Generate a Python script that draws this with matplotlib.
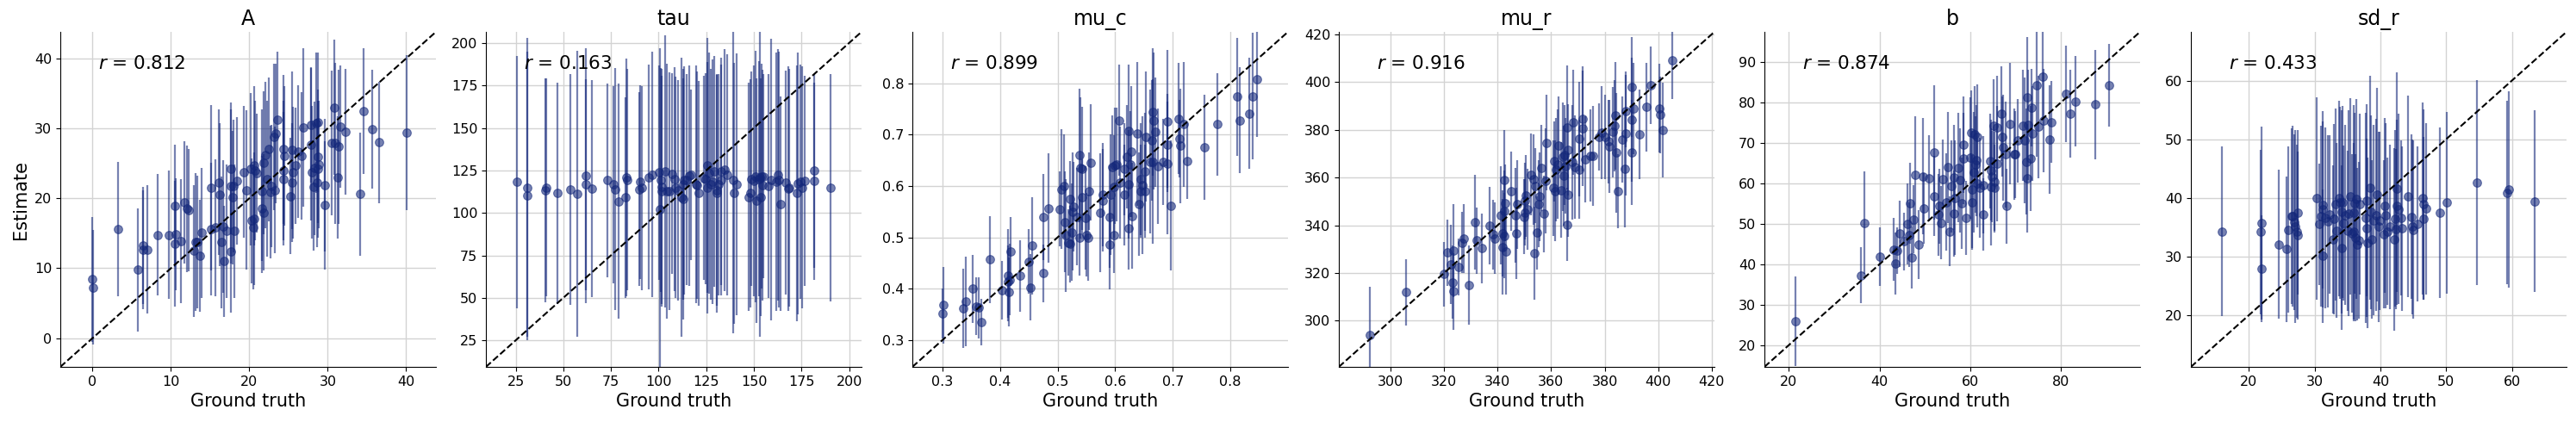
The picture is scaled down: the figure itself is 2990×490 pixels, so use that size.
import numpy as np
import matplotlib
matplotlib.use('Agg')
import matplotlib.pyplot as plt

# ---- data (ground truth, estimate, half-width of interval) ----
A_true = [0.0, 0.1, 3.3, 5.8, 6.4, 6.5, 7.0, 8.3, 9.7, 10.5, 10.6, 10.5, 11.3, 11.7, 12.0, 12.3,
          12.9, 13.1, 13.4, 13.7, 13.9, 15.1, 15.1, 15.7, 16.1, 16.2, 16.4, 16.7, 16.8, 17.1, 17.6,
          17.6, 17.7, 17.9, 18.0, 18.1, 18.4, 19.3, 19.6, 20.2, 20.3, 20.5, 20.6, 20.6, 20.7, 20.9,
          21.6, 21.6, 21.8, 21.8, 22.1, 22.3, 22.5, 22.7, 22.8, 23.2, 23.3, 23.4, 23.6, 24.4, 24.4,
          24.4, 24.5, 25.2, 25.4, 25.5, 25.6, 25.9, 26.2, 26.7, 26.9, 27.9, 27.9, 28.0, 28.2, 28.3,
          28.5, 28.6, 28.7, 28.7, 28.8, 28.9, 29.6, 29.6, 30.5, 30.8, 30.9, 31.3, 31.4, 31.6, 32.3,
          34.1, 34.6, 35.7, 36.5, 40.1]
A_est = [8.4, 7.25, 15.6, 9.8, 13.25, 12.6, 12.7, 14.8, 14.8, 18.9, 14.9, 13.5, 13.9, 19.4, 18.5,
         18.3, 12.5, 13.75, 13.75, 11.8, 15.1, 21.5, 15.6, 15.8, 22.3, 20.5, 13.7, 16.0, 11.0, 15.3,
         24.25, 12.4, 21.7, 20.1, 21.8, 15.3, 22.5, 23.75, 21.2, 24.2, 16.8, 15.9, 17.1, 24.7, 24.0,
         23.6, 21.0, 18.6, 18.0, 25.1, 26.2, 22.8, 27.0, 20.9, 21.75, 28.8, 21.2, 29.3, 31.3, 27.0,
         24.0, 22.8, 26.1, 20.3, 26.9, 22.2, 23.7, 24.7, 26.7, 26.1, 30.1, 30.5, 27.7, 23.7, 21.6,
         24.3, 30.8, 22.2, 30.9, 24.2, 26.0, 24.8, 19.0, 21.9, 27.9, 33.0, 27.9, 23.0, 27.4, 30.3,
         29.5, 20.6, 32.5, 29.9, 28.0, 29.4]
A_err = [8.9, 8.2, 9.6, 8.8, 8.4, 8.5, 9.2, 8.7, 9.2, 8.75, 8.0, 9.0, 8.9, 8.75, 9.0, 8.7, 9.4,
         9.8, 9.5, 8.0, 9.3, 11.8, 9.5, 9.75, 10.4, 10.2, 9.4, 9.5, 7.9, 9.5, 9.4, 8.75, 11.0, 9.5,
         9.5, 9.5, 9.1, 9.4, 11.4, 10.9, 8.9, 8.9, 9.5, 11.4, 10.0, 8.5, 11.7, 7.5, 8.3, 10.2, 10.5,
         11.1, 10.3, 9.5, 8.75, 10.5, 9.1, 10.0, 9.7, 10.7, 10.0, 9.5, 10.0, 8.3, 11.25, 8.5, 9.4,
         8.3, 9.5, 9.1, 11.3, 8.2, 10.9, 9.5, 9.1, 9.5, 10.0, 9.2, 10.0, 9.8, 9.5, 9.1, 9.2, 9.5,
         10.3, 9.7, 11.5, 8.75, 11.0, 8.75, 9.0, 8.85, 9.0, 8.5, 8.7, 11.1]

tau_true = [25.8, 30.9, 31.3, 40.8, 41.1, 46.7, 53.5, 57.1, 61.9, 61.9, 64.8, 73.0, 76.1, 77.4,
            79.2, 82.8, 83.3, 83.4, 90.1, 89.8, 91.1, 95.0, 96.8, 100.2, 100.6, 101.0, 101.4, 101.4,
            103.6, 104.4, 105.6, 107.0, 108.4, 108.9, 110.0, 112.2, 112.7, 113.1, 113.4, 114.6,
            116.1, 117.2, 119.7, 120.2, 121.2, 123.9, 124.7, 125.7, 125.7, 126.5, 127.3, 128.5,
            129.2, 130.4, 130.7, 131.5, 132.7, 133.0, 134.5, 136.0, 139.3, 139.5, 140.8, 147.3,
            148.0, 148.8, 149.8, 151.1, 151.5, 152.6, 153.3, 153.6, 154.1, 154.8, 154.4, 157.8,
            158.9, 161.6, 162.7, 163.1, 164.2, 166.6, 168.1, 168.7, 172.6, 173.2, 174.4, 175.2,
            176.7, 181.5, 181.6, 190.2]
tau_est = [118.1, 115.0, 110.0, 113.3, 115.0, 111.5, 113.7, 111.1, 122.1, 116.7, 114.2, 119.2,
           116.7, 114.0, 106.9, 109.1, 121.0, 119.6, 118.1, 113.8, 114.7, 121.0, 122.6, 123.8,
           102.0, 119.3, 115.5, 112.8, 124.3, 112.8, 112.8, 123.1, 119.8, 115.0, 113.3, 109.1,
           108.2, 116.7, 119.2, 119.6, 121.8, 122.3, 116.7, 116.2, 111.5, 120.6, 120.1, 128.2,
           114.7, 123.5, 116.7, 118.4, 124.3, 113.3, 111.5, 116.7, 124.3, 119.3, 125.2, 122.3,
           119.3, 111.5, 116.7, 109.4, 111.5, 120.1, 118.8, 121.3, 107.1, 120.1, 121.0, 109.1,
           121.5, 121.5, 116.2, 115.9, 119.6, 118.4, 122.3, 119.6, 105.4, 117.9, 114.2, 114.7,
           111.5, 117.1, 118.4, 115.0, 118.8, 118.8, 124.7, 114.7]
tau_err = [74, 88, 85, 66, 64, 65, 68, 84, 75, 62, 64, 57, 58, 71, 69, 59, 70, 65, 57, 57, 60,
           66, 72, 63, 95, 66, 69, 68, 80, 75, 70, 59, 66, 65, 65, 82, 71, 68, 67, 62, 65, 50, 70,
           67, 66, 60, 62, 75, 74, 71, 68, 72, 68, 68, 70, 65, 67, 68, 71, 71, 90, 77, 77, 67, 67,
           63, 68, 74, 72, 69, 94, 70, 66, 60, 68, 66, 83, 76, 74, 75, 63, 66, 72, 70, 75, 77, 69,
           71, 62, 58, 57, 67]

mu_c_true = [0.3015, 0.3005, 0.336, 0.341, 0.353, 0.359, 0.363, 0.368, 0.382, 0.404, 0.414, 0.414,
             0.416, 0.417, 0.419, 0.435, 0.45, 0.453, 0.456, 0.476, 0.476, 0.485, 0.504, 0.507,
             0.511, 0.512, 0.514, 0.518, 0.521, 0.522, 0.524, 0.526, 0.528, 0.533, 0.538, 0.538,
             0.54, 0.542, 0.543, 0.548, 0.55, 0.553, 0.555, 0.558, 0.574, 0.578, 0.579, 0.59,
             0.591, 0.592, 0.595, 0.598, 0.598, 0.599, 0.603, 0.607, 0.608, 0.616, 0.616, 0.621,
             0.623, 0.623, 0.624, 0.627, 0.628, 0.629, 0.639, 0.642, 0.644, 0.645, 0.648, 0.652,
             0.652, 0.653, 0.661, 0.663, 0.665, 0.665, 0.667, 0.669, 0.674, 0.683, 0.691, 0.691,
             0.691, 0.696, 0.71, 0.711, 0.713, 0.719, 0.725, 0.755, 0.777, 0.812, 0.816, 0.832,
             0.838, 0.846]
mu_c_est = [0.368, 0.352, 0.362, 0.376, 0.40, 0.366, 0.363, 0.335, 0.457, 0.397, 0.426, 0.414,
            0.394, 0.418, 0.473, 0.425, 0.453, 0.403, 0.484, 0.54, 0.43, 0.557, 0.555, 0.594,
            0.60, 0.53, 0.504, 0.49, 0.487, 0.575, 0.51, 0.55, 0.56, 0.54, 0.66, 0.50, 0.635,
            0.634, 0.579, 0.538, 0.505, 0.50, 0.59, 0.646, 0.548, 0.583, 0.572, 0.486, 0.54,
            0.583, 0.637, 0.504, 0.599, 0.64, 0.642, 0.728, 0.607, 0.583, 0.633, 0.657, 0.708,
            0.603, 0.518, 0.642, 0.667, 0.542, 0.702, 0.565, 0.614, 0.59, 0.601, 0.628, 0.59,
            0.696, 0.647, 0.689, 0.744, 0.647, 0.727, 0.705, 0.638, 0.647, 0.726, 0.681, 0.643,
            0.562, 0.731, 0.692, 0.678, 0.72, 0.648, 0.675, 0.72, 0.774, 0.728, 0.741, 0.775, 0.808]
mu_c_err = [0.075, 0.049, 0.077, 0.087, 0.066, 0.056, 0.059, 0.045, 0.085, 0.057, 0.09, 0.07,
            0.067, 0.07, 0.067, 0.07, 0.063, 0.064, 0.095, 0.084, 0.056, 0.106, 0.073, 0.116,
            0.1, 0.098, 0.11, 0.064, 0.075, 0.073, 0.095, 0.115, 0.087, 0.095, 0.13, 0.075,
            0.137, 0.12, 0.073, 0.1, 0.081, 0.084, 0.075, 0.113, 0.115, 0.1, 0.1, 0.087, 0.1,
            0.117, 0.1, 0.073, 0.1, 0.113, 0.11, 0.108, 0.109, 0.098, 0.09, 0.1, 0.128, 0.106,
            0.081, 0.103, 0.128, 0.103, 0.14, 0.1, 0.109, 0.09, 0.134, 0.115, 0.09, 0.127, 0.14,
            0.117, 0.124, 0.16, 0.133, 0.106, 0.112, 0.084, 0.138, 0.084, 0.137, 0.127, 0.108,
            0.075, 0.112, 0.121, 0.074, 0.102, 0.1, 0.115, 0.103, 0.108, 0.123, 0.113]

mu_r_true = [292.2, 305.8, 319.8, 321.1, 322.4, 323.3, 323.5, 323.5, 325.4, 326.8, 327.3, 329.4,
             331.5, 332.2, 334.0, 337.0, 338.3, 338.8, 341.3, 341.7, 342.0, 342.6, 342.8, 342.6,
             342.6, 343.1, 345.0, 346.8, 347.1, 347.4, 349.8, 350.1, 350.3, 350.6, 351.3, 352.5,
             353.3, 353.6, 354.1, 354.8, 355.2, 355.6, 356.3, 357.2, 357.9, 358.4, 360.8, 361.0,
             361.6, 361.8, 362.4, 362.9, 363.8, 364.5, 364.8, 365.0, 365.2, 365.9, 366.1, 366.3,
             366.3, 368.0, 368.3, 368.8, 370.4, 370.4, 371.7, 371.8, 372.8, 374.7, 375.6, 377.8,
             379.0, 380.1, 381.4, 381.7, 383.1, 383.8, 384.1, 384.4, 384.9, 386.5, 387.4, 387.8,
             387.9, 390.0, 390.0, 390.2, 390.8, 392.9, 395.6, 397.2, 400.4, 400.8, 401.8, 405.2]
mu_r_est = [294.2, 311.9, 319.5, 328.5, 323.7, 316.2, 312.3, 329.4, 322.5, 332.7, 334.5, 314.9,
            341.2, 333.6, 330.3, 339.7, 336.1, 334.5, 344.2, 336.7, 330.9, 358.8, 349.3, 346.0,
            335.7, 328.9, 354.2, 344.2, 336.6, 348.7, 343.6, 350.2, 345.4, 352.3, 346.8, 361.3,
            359.2, 328.3, 356.6, 336.9, 349.0, 352.0, 364.0, 344.8, 358.6, 374.6, 355.6, 366.8,
            354.4, 363.4, 365.6, 373.3, 354.8, 368.8, 360.8, 369.4, 364.9, 340.3, 380.9, 352.8,
            371.6, 366.4, 383.0, 364.4, 376.1, 363.4, 380.6, 384.5, 367.6, 369.1, 369.1, 377.0,
            378.8, 377.0, 375.1, 373.0, 379.0, 381.7, 385.9, 370.4, 354.2, 375.8, 363.7, 387.8,
            378.5, 398.0, 384.1, 370.4, 388.9, 378.1, 389.5, 398.6, 389.0, 386.3, 379.9, 409.1]
mu_r_err = [20, 13.8, 13.5, 13.8, 16.5, 15.2, 16, 19.4, 12, 12.8, 14.4, 16.7, 19.9, 14, 14.7,
            16.2, 14.7, 15, 20.6, 18, 20, 21, 16, 17, 18, 18, 16.5, 19.9, 19, 18.7, 15.6, 16, 14,
            17, 17, 17.3, 19, 19.6, 15.6, 15.3, 18.3, 18.6, 18, 16, 22, 20, 20, 16.8, 21, 21.6,
            22.9, 20.5, 19.9, 22.8, 21, 21, 20, 15.3, 26, 17.5, 19, 24, 22, 21.7, 24, 20.8, 24,
            22, 18, 19.3, 20.8, 14, 19.3, 17.5, 17.5, 19.6, 19, 19, 22.6, 25, 15.6, 18, 24.6,
            15.3, 26, 21, 26, 22, 19, 18.6, 18.5, 16.2, 18.6, 16, 19.8, 16.4]

b_true = [21.5, 35.9, 36.6, 40.0, 43.1, 43.5, 43.9, 44.4, 45.3, 46.1, 46.5, 46.7, 47.1, 47.4,
          47.8, 48.5, 49.6, 49.8, 50.8, 52.0, 52.0, 52.9, 53.1, 53.6, 53.9, 54.7, 55.1, 55.4,
          55.9, 56.4, 56.4, 56.6, 57.3, 57.8, 58.0, 58.4, 58.4, 59.0, 59.9, 60.2, 60.3, 60.4,
          60.7, 60.9, 61.1, 61.3, 61.5, 61.6, 62.1, 62.8, 62.9, 64.3, 64.5, 64.6, 64.8, 65.1,
          65.3, 65.4, 65.9, 65.9, 66.8, 67.0, 67.2, 67.7, 68.0, 68.8, 69.6, 69.9, 70.5, 71.5,
          72.0, 72.4, 72.6, 72.6, 72.7, 73.2, 73.4, 73.7, 74.7, 74.9, 76.0, 76.2, 77.5, 77.9,
          81.0, 82.0, 83.2, 87.6, 90.6]
b_est = [25.9, 37.2, 50.2, 41.9, 43.6, 40.1, 43.3, 47.5, 45.6, 50.0, 47.2, 55.0, 41.6, 51.1,
         62.1, 44.8, 61.7, 53.8, 61.2, 67.6, 56.8, 52.2, 54.3, 50.2, 60.9, 55.3, 63.9, 48.1,
         59.2, 61.4, 52.5, 56.4, 63.8, 60.7, 55.0, 66.1, 69.5, 51.4, 66.3, 72.4, 58.5, 55.2,
         62.8, 72.0, 64.6, 65.6, 71.5, 60.0, 58.9, 59.6, 52.3, 65.4, 63.2, 59.1, 61.7, 74.2,
         58.9, 60.3, 64.8, 73.8, 77.1, 71.5, 68.8, 67.1, 54.3, 74.7, 67.1, 67.1, 70.5, 74.3,
         70.6, 65.3, 81.2, 61.2, 74.4, 66.2, 78.6, 72.2, 84.1, 73.9, 86.4, 75.4, 70.8, 75.1,
         82.0, 77.2, 80.2, 79.5, 84.2]
b_err = [11, 6.9, 12.7, 7.2, 7.8, 7.6, 5.7, 8.2, 7.1, 10, 8.0, 10, 7.6, 8.5, 14.5, 8.5, 14.4,
         8.7, 10.6, 16.7, 9.9, 10.1, 9.2, 9, 9.8, 12, 13.7, 8.7, 11.3, 13, 10.6, 14.2, 13.5,
         12.8, 11.3, 11.3, 12, 9.2, 15, 10.6, 14.5, 11.7, 14.9, 12, 11.9, 13.8, 13, 11, 12.4,
         12, 8.9, 11.7, 12.4, 14.5, 11.3, 11.4, 10.6, 12.4, 14.2, 12.8, 11.7, 9.9, 13.1, 13.1,
         9.2, 15, 11.3, 10.8, 10.3, 13.7, 15.6, 13.1, 14.9, 13.5, 13.7, 13, 9.6, 11.7, 17.6,
         12.6, 11, 12.8, 13.5, 10.1, 11.9, 10.8, 11.2, 13.5, 10.2]

sd_r_true = [15.9, 21.8, 21.9, 21.9, 24.6, 25.7, 26.0, 26.5, 26.7, 26.9, 27.0, 27.3, 27.5, 27.5,
             30.3, 30.7, 31.0, 31.2, 31.2, 31.3, 31.6, 32.0, 32.3, 32.8, 33.0, 33.2, 33.3, 33.7,
             33.9, 34.1, 34.1, 34.2, 34.4, 34.6, 35.1, 35.2, 35.4, 35.7, 35.9, 36.0, 36.1, 36.2,
             36.4, 36.5, 36.7, 36.9, 37.8, 37.9, 37.9, 38.1, 38.4, 38.6, 38.7, 38.9, 39.3, 39.5,
             39.7, 39.9, 40.5, 40.7, 40.8, 41.0, 41.5, 42.1, 42.2, 42.4, 42.5, 42.5, 42.8, 43.1,
             43.3, 44.2, 44.7, 44.8, 45.0, 45.6, 46.4, 46.5, 46.6, 47.0, 49.0, 50.1, 54.7, 59.2,
             59.5, 63.5]
sd_r_est = [34.3, 34.2, 35.7, 28.0, 32.1, 31.3, 34.6, 36.9, 36.9, 35.9, 35.1, 34.3, 33.6, 37.5,
            39.9, 35.5, 36.9, 38.8, 30.1, 38.1, 36.6, 36.0, 37.2, 32.9, 36.4, 38.9, 34.4, 39.9,
            39.2, 37.6, 31.5, 39.3, 35.7, 37.1, 34.4, 37.4, 40.3, 33.9, 34.2, 37.5, 39.1, 33.2,
            39.8, 32.1, 32.8, 39.0, 36.6, 39.6, 34.9, 32.3, 41.7, 37.6, 32.9, 36.2, 37.1, 40.6,
            35.1, 36.1, 33.8, 38.7, 37.0, 34.3, 35.1, 32.9, 36.5, 34.7, 41.6, 38.7, 38.1, 36.6,
            34.8, 40.3, 36.8, 35.1, 34.6, 35.6, 39.9, 38.9, 36.5, 38.2, 37.5, 39.2, 42.6, 40.9,
            41.4, 39.4]
sd_r_err = [14.5, 14, 16.4, 9.1, 12.7, 12.4, 14.2, 15, 15.4, 15, 16.4, 14.7, 14.3, 14, 17.2,
            10.3, 15.4, 14.2, 11.4, 16.7, 15.4, 14.7, 13.5, 12.6, 16.2, 16.4, 14.9, 16.7, 16.4,
            17.3, 14, 16.4, 13.2, 15.4, 13.7, 17.6, 16.7, 13.5, 15.2, 18.3, 15.4, 14.2, 17, 13,
            13.4, 15.4, 17.9, 16.4, 15.2, 14.5, 19.1, 16.5, 13.5, 16.2, 16.4, 18.2, 16.2, 15.2,
            12.6, 14.9, 15.8, 12.5, 14, 15.6, 15, 13.7, 19.8, 14.7, 16.2, 13.2, 14, 17.2, 14,
            14.9, 15.2, 13.2, 16.4, 16.2, 13.9, 14.6, 14.5, 15.5, 17.5, 15.6, 16.7, 15.5]

params = ['A', 'tau', 'mu_c', 'mu_r', 'b', 'sd_r']
r_values = [0.812, 0.163, 0.899, 0.916, 0.874, 0.433]
truth = [A_true, tau_true, mu_c_true, mu_r_true, b_true, sd_r_true]
estimates = [A_est, tau_est, mu_c_est, mu_r_est, b_est, sd_r_est]
errors = [A_err, tau_err, mu_c_err, mu_r_err, b_err, sd_r_err]

limits = [(-4.1, 43.8), (9.4, 206.5), (0.248, 0.9), (280.7, 421.0), (14.6, 97.4), (11.2, 68.3)]
ticks = [np.arange(0, 41, 10), np.arange(25, 201, 25), np.arange(0.3, 0.81, 0.1),
         np.arange(300, 421, 20), None, np.arange(20, 61, 10)]
xticks_b = np.arange(20, 81, 20)
yticks_b = np.arange(20, 91, 10)

color = '#13277a'

fig = plt.figure(figsize=(29.9, 4.9), dpi=100)
lefts = [70, 564, 1059, 1554, 2048, 2543]
W, H = 2990.0, 490.0

for i, name in enumerate(params):
    ax = fig.add_axes([lefts[i] / W, 64 / H, 436 / W, 389 / H])
    lo, hi = limits[i]
    ax.grid(True, color='#d3d3d3', linewidth=1.0)
    ax.set_axisbelow(True)
    ax.errorbar(truth[i], estimates[i], yerr=errors[i], fmt='o', color=color,
                ecolor=color, alpha=0.58, markersize=7, elinewidth=1.6,
                markeredgewidth=0.8, zorder=3)
    ax.plot([lo, hi], [lo, hi], color='black', linestyle='--', linewidth=1.5, zorder=4)
    ax.set_xlim(lo, hi)
    ax.set_ylim(lo, hi)
    if name == 'b':
        ax.set_xticks(xticks_b)
        ax.set_yticks(yticks_b)
    else:
        ax.set_xticks(ticks[i])
        ax.set_yticks(ticks[i])
        if name == 'mu_c':
            ax.set_xticklabels([f'{t:.1f}' for t in ticks[i]])
            ax.set_yticklabels([f'{t:.1f}' for t in ticks[i]])
    ax.tick_params(labelsize=11.5)
    ax.spines['top'].set_visible(False)
    ax.spines['right'].set_visible(False)
    ax.set_title(name, fontsize=17)
    ax.set_xlabel('Ground truth', fontsize=15)
    if i == 0:
        ax.set_ylabel('Estimate', fontsize=15)
    ax.text(0.1, 0.905, f'$r$ = {r_values[i]:.3f}', transform=ax.transAxes,
            fontsize=15.5, va='center', ha='left')

fig.savefig('out.png', dpi=100)
